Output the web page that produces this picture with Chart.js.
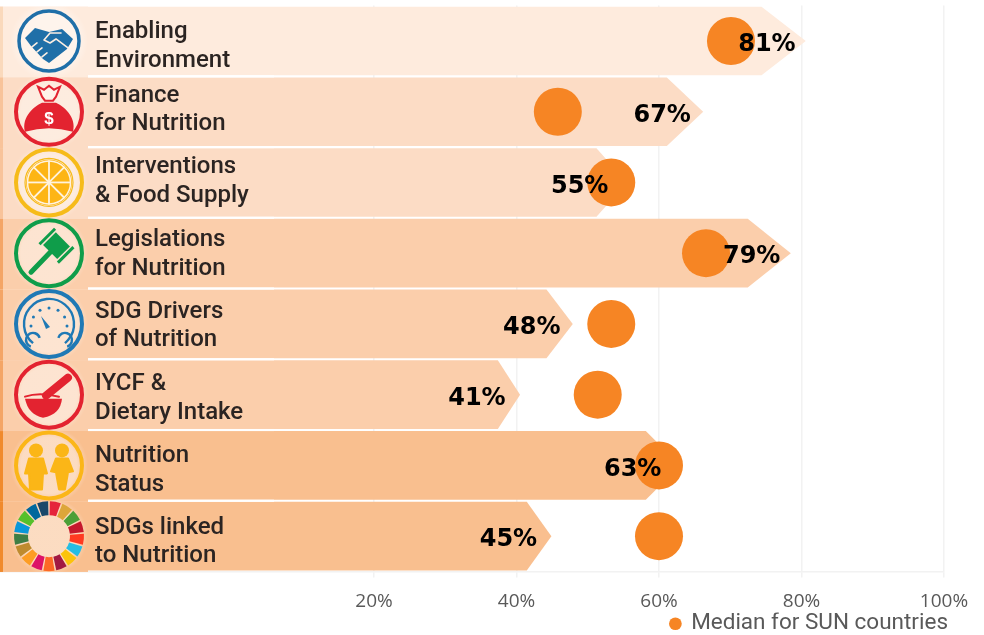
<!DOCTYPE html>
<html><head><meta charset="utf-8">
<style>html,body{margin:0;padding:0;background:#fff}canvas{display:block}</style>
<script src="https://cdn.jsdelivr.net/npm/chart.js@4"></script></head>
<body><canvas id="c" width="984" height="635"></canvas>
<script>
const categories=[["Enabling","Environment"],["Finance","for Nutrition"],["Interventions","& Food Supply"],["Legislations","for Nutrition"],["SDG Drivers","of Nutrition"],["IYCF &","Dietary Intake"],["Nutrition","Status"],["SDGs linked","to Nutrition"]];
const categoryKeys=categories.map(c=>c.join(" "));
const barValues=[80.6,66.2,55.5,78.5,47.9,40.5,63,44.9];
const valueLabels=[81,67,55,79,48,41,63,45];
const medianValues=[70.1,45.8,53.3,66.6,53.3,51.4,60,60];
const tickValues=[20,40,60,80,100];
const rowColors=["#feebdd","#fcdcc5","#fcdcc5","#fbceab","#fbceab","#fbceab","#f9bf8f","#f9bf8f"];
const stripColors=["#fad9bc","#f8c39a","#f8c39a","#f4a566","#f4a566","#f4a566","#f08a2d","#f08a2d"];
const sdgColors=["#e5243b","#dda63a","#4c9f38","#c5192d","#ff3a21","#26bde2","#fcc30b","#a21942","#fd6925","#dd1367","#fd9d24","#bf8b2e","#3f7e44","#0a97d9","#56c02b","#00689d","#19486a"];
const axisMin=-32.49,axisMax=100;
let zeroPx=0;

Chart.BarElement.prototype.draw=function(ctx){
  const h=this.height,t=this.y-h/2,b=this.y+h/2,tip=this.x,len=(tip-zeroPx)*0.077;
  ctx.save();ctx.fillStyle=this.options.backgroundColor;ctx.beginPath();
  ctx.moveTo(this.base,t);ctx.lineTo(tip-len,t);ctx.lineTo(tip,this.y);ctx.lineTo(tip-len,b);ctx.lineTo(this.base,b);ctx.closePath();ctx.fill();ctx.restore();
};
function ring(c,col,r,w){c.strokeStyle=col;c.lineWidth=w;c.beginPath();c.arc(0,0,r,0,7);c.stroke();}
function poly(c,p){c.beginPath();p.forEach((q,i)=>i?c.lineTo(q[0],q[1]):c.moveTo(q[0],q[1]));c.closePath();}
const icons=[
 c=>{const B="#1f6fa8";ring(c,B,30,3.5);c.fillStyle=B;
  poly(c,[[-24,-3],[-14,-13],[0,-9],[13,-12],[24,-2],[18,8],[0,22],[-6,18],[-18,5]]);c.fill();
  c.strokeStyle="#fdeee2";c.lineWidth=1.6;c.lineCap="round";c.lineJoin="round";
  c.beginPath();c.moveTo(-5,-1);c.lineTo(1,-8);c.lineTo(12,-8);c.moveTo(-5,-1);c.lineTo(1,2);c.lineTo(7,-2);c.lineTo(19,7);c.moveTo(-17,6);c.lineTo(-12,2);c.moveTo(-12,11);c.lineTo(-7,7);c.moveTo(-7,16);c.lineTo(-2,12);c.stroke();},
 c=>{const R="#e32330";ring(c,R,33,4);c.fillStyle=R;c.beginPath();c.moveTo(-24,20);c.bezierCurveTo(-28,5,-14,-6,-7,-9);c.lineTo(7,-9);c.bezierCurveTo(14,-6,28,5,24,20);c.quadraticCurveTo(0,13,-24,20);c.fill();
  c.fillStyle="#fff2e8";c.strokeStyle=R;c.lineWidth=2;poly(c,[[-11,-25],[-5,-22],[0,-26],[5,-22],[11,-25],[7,-15],[4,-11],[-4,-11],[-7,-15]]);c.fill();c.stroke();
  c.fillStyle="#fff";c.font="bold 17px 'Liberation Sans'";c.textAlign="center";c.textBaseline="middle";c.fillText("$",0,8);},
 c=>{const Y="#f6bb1a";ring(c,Y,33,4);c.fillStyle="#fdb515";c.beginPath();c.arc(0,0,23,0,7);c.fill();ring(c,"#fff3df",21.5,1.5);ring(c,"#f6bb1a",24,1.2);
  c.strokeStyle="#fff3df";c.lineWidth=1.8;for(let i=0;i<8;i++){const a=i*Math.PI/4;c.beginPath();c.moveTo(0,0);c.lineTo(22*Math.cos(a),22*Math.sin(a));c.stroke();}},
 c=>{const G="#0f9d4a";ring(c,G,33,4);c.fillStyle=G;c.strokeStyle=G;c.lineCap="round";c.lineWidth=5;c.beginPath();c.moveTo(-18,19);c.lineTo(7,-7);c.stroke();
  c.save();c.translate(7.5,-7.5);c.rotate(-Math.PI/4);c.fillRect(-9,-10,18,20);c.fillRect(-11,-14.5,22,3);c.fillRect(-11,11.5,22,3);c.restore();},
 c=>{const B="#1f79b5";ring(c,B,33,4);c.strokeStyle=B;c.lineWidth=2.4;c.beginPath();c.arc(0,0,25,Math.PI*0.72,Math.PI*0.28);c.stroke();
  c.beginPath();c.arc(-16,16,7,Math.PI*.6,Math.PI*1.9);c.stroke();c.beginPath();c.arc(16,16,7,Math.PI*1.1,Math.PI*.4);c.stroke();
  c.fillStyle=B;for(let i=0;i<7;i++){const a=Math.PI*(1+i/6);c.beginPath();c.arc(18*Math.cos(a),18*Math.sin(a)+2,1.5,0,7);c.fill();}
  poly(c,[[-8,-8],[1,3],[-3,5]]);c.fill();},
 c=>{const R="#e32330";ring(c,R,33,4);c.fillStyle=R;c.strokeStyle=R;c.lineCap="round";c.lineWidth=8;c.beginPath();c.moveTo(-3,1);c.lineTo(19,-17);c.stroke();
  c.lineWidth=2;c.beginPath();c.moveTo(-24,2);c.quadraticCurveTo(-10,-3,10,2);c.stroke();
  c.beginPath();c.moveTo(-24,4);c.lineTo(13,4);c.bezierCurveTo(12,14,6,21,-6,23);c.bezierCurveTo(-16,21,-22,14,-24,4);c.fill();},
 c=>{const Y="#fbb617";ring(c,Y,33,4);c.fillStyle=Y;c.strokeStyle=Y;c.lineJoin="round";c.lineCap="round";
  [-13,13].forEach((x,k)=>{c.beginPath();c.arc(x,-15,7,0,7);c.fill();c.lineWidth=2;
   poly(c,k?[[x-6,-7],[x+6,-7],[x+11,6],[x+6,7],[x+5,13],[x+3,24],[x-3,24],[x-5,13],[x-6,7],[x-11,6]]:[[x-7,-7],[x+7,-7],[x+11,8],[x+7,8],[x+6,24],[x-6,24],[x-7,8],[x-11,8]]);c.fill();c.stroke();});},
 c=>{const n=sdgColors.length;sdgColors.forEach((col,i)=>{const st=-Math.PI/2+i*2*Math.PI/n+.025,en=st+2*Math.PI/n-.05;c.fillStyle=col;c.beginPath();c.arc(0,0,35,st,en);c.arc(0,0,21,en,st,true);c.closePath();c.fill();});}
];
const shifted=new WeakSet();
const panelPlugin={id:"panel",
 afterLayout(chart){chart.legend.top+=10;chart.legend.right+=4;chart.scales.x.bottom+=16;},
 beforeDatasetsDraw(chart){zeroPx=chart.scales.x.getPixelForValue(0);},
 afterDatasetsDraw(chart){
  const c=chart.ctx,els=chart.getDatasetMeta(1).data;
  const nudgeY=[5.5,-1.5,-1,1.5,2,4,5,6];
  const items=chart.scales.y.getLabelItems();
  items.forEach((it,i)=>{if(!shifted.has(it)){shifted.add(it);it.options.translation[1]+=nudgeY[i];}});
  c.save();
  els.forEach((el,i)=>{
   const t=el.y-el.height/2,b=el.y+el.height/2,next=els[i+1];
   const bottom=next?next.y-next.height/2:b+1.5;
   c.fillStyle=rowColors[i];c.fillRect(0,t,88,bottom-t);
   c.fillStyle=stripColors[i];c.fillRect(0,t,3,bottom-t);
   if(next){c.fillStyle="#fff";c.fillRect(88,b,186,bottom-b);}
   const g=c.createRadialGradient(49,el.y,28,49,el.y,39);g.addColorStop(0,"rgba(255,255,255,.45)");g.addColorStop(1,"rgba(255,255,255,0)");
   c.fillStyle=g;c.fillRect(3,t,85,bottom-t);
  });
  els.forEach((el,i)=>{c.save();c.translate(49,el.y);icons[i](c);c.restore();});
  const nudgeX=[2,-3,0,1,2,-3,-4,0];
  c.fillStyle="#000";c.textAlign="right";c.textBaseline="middle";c.font="bold 24px 'DejaVu Sans'";
  els.forEach((el,i)=>{c.fillText(valueLabels[i]+"%",chart.scales.x.getPixelForValue(valueLabels[i])-15+nudgeX[i],el.y+4);});
  c.restore();
 }};
const zeroPad=s=>{s.paddingTop=0;s.paddingBottom=0;s.paddingLeft=0;s.paddingRight=0;};
new Chart(document.getElementById("c"),{
 plugins:[panelPlugin],
 data:{labels:categoryKeys,datasets:[
  {type:"line",label:"Median for SUN countries",order:0,data:medianValues.map((v,i)=>({x:v,y:categoryKeys[i]})),showLine:false,pointRadius:24,pointHoverRadius:24,borderWidth:0,pointBorderWidth:0,backgroundColor:"#f68524",pointBackgroundColor:"#f68524",clip:false},
  {type:"bar",label:"Score",order:1,data:barValues,base:axisMin,backgroundColor:rowColors,barPercentage:.97,categoryPercentage:1,borderWidth:0}
 ]},
 options:{indexAxis:"y",responsive:false,animation:false,events:[],
  layout:{autoPadding:false,padding:{left:0,right:40,top:5.6,bottom:0}},
  plugins:{tooltip:{enabled:false},title:{display:false},
   legend:{position:"bottom",align:"end",
    labels:{usePointStyle:true,boxHeight:9,boxWidth:9,padding:0,color:"#595959",font:{family:"Roboto",size:22.5},filter:i=>i.text==="Median for SUN countries"}}},
  scales:{
   x:{type:"linear",min:axisMin,max:axisMax,afterBuildTicks:a=>{a.ticks=tickValues.map(v=>({value:v}));},
    afterFit:s=>{zeroPad(s);s.height=31;},
    grid:{color:"#f2f2f2",lineWidth:1.5,tickLength:6,tickColor:"#f2f2f2"},border:{color:"#f2f2f2",width:1.5},
    ticks:{color:"#595959",padding:13,maxRotation:0,autoSkip:false,font:{family:"'Open Sans'",size:19},callback:v=>v+"%"}},
   y:{type:"category",labels:categoryKeys,offset:true,afterFit:s=>{zeroPad(s);s.width=0;},grid:{display:false},border:{display:false},
    ticks:{mirror:true,padding:95,z:1,color:"#2b2422",autoSkip:false,font:{family:"Roboto",size:24,weight:"500",lineHeight:1.19},callback:(v,i)=>categories[i]}}
  }}
});
</script></body></html>
